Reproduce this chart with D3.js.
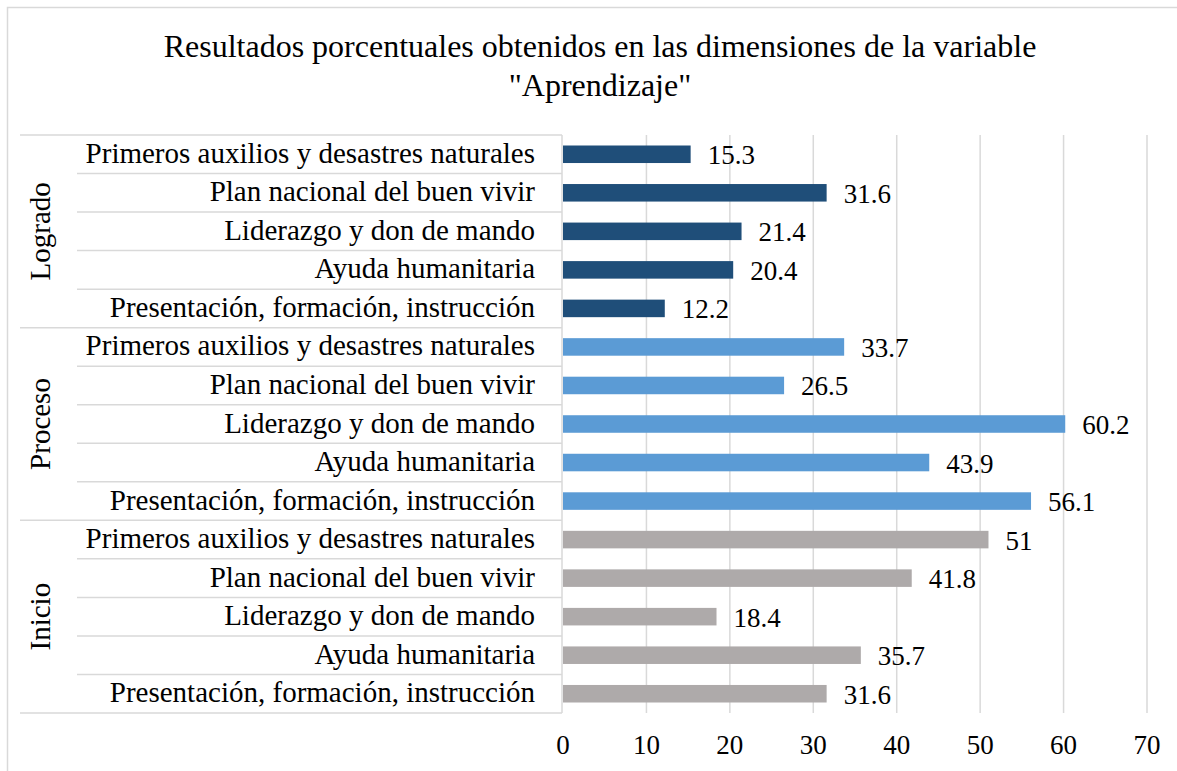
<!DOCTYPE html>
<html>
<head>
<meta charset="utf-8">
<script src="https://cdn.jsdelivr.net/npm/d3@7"></script>
<style>
  body { margin: 0; background: #fff; }
  svg text { font-family: "Liberation Serif", "Times New Roman", serif; fill: #000; }
</style>
</head>
<body>
<div id="chart"></div>
<script>
// Data
const groups = ["Logrado", "Proceso", "Inicio"];
const dimensions = [
    "Primeros auxilios y desastres naturales",
    "Plan nacional del buen vivir",
    "Liderazgo y don de mando",
    "Ayuda humanitaria",
    "Presentación, formación, instrucción"
];
const logrado = [15.3, 31.6, 21.4, 20.4, 12.2];
const proceso = [33.7, 26.5, 60.2, 43.9, 56.1];
const inicio = [51, 41.8, 18.4, 35.7, 31.6];
const xTicks = [0, 10, 20, 30, 40, 50, 60, 70];
const groupColors = { "Logrado": "#1F4E79", "Proceso": "#5B9BD5", "Inicio": "#AEAAAA" };

const seriesByGroup = { "Logrado": logrado, "Proceso": proceso, "Inicio": inicio };

// Flatten rows in display order (top to bottom)
const rows = [];
groups.forEach(g => {
    dimensions.forEach((d, i) => {
        rows.push({ group: g, dim: d, value: seriesByGroup[g][i], key: g + "|" + d });
    });
});

const W = 1177, H = 771;
const plot = { left: 563, right: 1147, top: 135, bottom: 713 };

const svg = d3.select("#chart")
    .append("svg")
    .attr("width", W)
    .attr("height", H);

// Chart border (only left and top visible in frame)
svg.append("rect")
    .attr("x", 7.5).attr("y", 7.5)
    .attr("width", W + 20).attr("height", H + 20)
    .attr("fill", "none")
    .attr("stroke", "#D9D9D9")
    .attr("stroke-width", 1.5);

// Title
svg.append("text")
    .attr("x", 600).attr("y", 57)
    .attr("text-anchor", "middle")
    .style("font-size", "32px")
    .text("Resultados porcentuales obtenidos en las dimensiones de la variable");
svg.append("text")
    .attr("x", 600).attr("y", 96)
    .attr("text-anchor", "middle")
    .style("font-size", "32px")
    .text("\"Aprendizaje\"");

// Scales
const x = d3.scaleLinear()
    .domain([0, 70])
    .range([plot.left, plot.right]);

const y = d3.scaleBand()
    .domain(rows.map(r => r.key))
    .range([plot.top, plot.bottom])
    .paddingInner(0.545)
    .paddingOuter(0.2725);

// Gridlines
svg.append("g")
    .selectAll("line")
    .data(xTicks.filter(t => t > 0))
    .enter()
    .append("line")
    .attr("x1", d => x(d)).attr("x2", d => x(d))
    .attr("y1", plot.top).attr("y2", plot.bottom)
    .attr("stroke", "#D9D9D9")
    .attr("stroke-width", 1.5);

// Category axis lines
const catLines = svg.append("g").attr("stroke", "#D9D9D9").attr("stroke-width", 1.5);
catLines.append("line")
    .attr("x1", plot.left - 1).attr("x2", plot.left - 1)
    .attr("y1", plot.top).attr("y2", plot.bottom);

rows.forEach((r, i) => {
    const yTop = y(r.key) - y.step() * y.paddingInner() / 2;
    const isGroupStart = i % dimensions.length === 0;
    catLines.append("line")
        .attr("x1", isGroupStart ? 20 : 77)
        .attr("x2", plot.left - 1)
        .attr("y1", yTop).attr("y2", yTop);
});
catLines.append("line")
    .attr("x1", 20).attr("x2", plot.left - 1)
    .attr("y1", plot.bottom).attr("y2", plot.bottom);

// Bars
svg.append("g")
    .selectAll("rect")
    .data(rows)
    .enter()
    .append("rect")
    .attr("x", x(0))
    .attr("y", d => y(d.key))
    .attr("width", d => x(d.value) - x(0))
    .attr("height", y.bandwidth())
    .attr("fill", d => groupColors[d.group]);

// Value labels
svg.append("g")
    .selectAll("text")
    .data(rows)
    .enter()
    .append("text")
    .attr("x", d => x(d.value) + 17)
    .attr("y", d => y(d.key) + y.bandwidth() / 2 + 10)
    .style("font-size", "27px")
    .text(d => d.value);

// Inner category labels
svg.append("g")
    .selectAll("text")
    .data(rows)
    .enter()
    .append("text")
    .attr("x", 535)
    .attr("y", d => y(d.key) + y.bandwidth() / 2 + 8.5)
    .attr("text-anchor", "end")
    .style("font-size", "29px")
    .text(d => d.dim);

// Group labels (rotated)
groups.forEach((g, gi) => {
    const first = rows[gi * dimensions.length];
    const last = rows[gi * dimensions.length + dimensions.length - 1];
    const yc = (y(first.key) + y(last.key) + y.bandwidth()) / 2;
    svg.append("text")
        .attr("transform", `translate(50, ${yc}) rotate(-90)`)
        .attr("text-anchor", "middle")
        .style("font-size", "29px")
        .text(g);
});

// X axis tick labels
svg.append("g")
    .selectAll("text")
    .data(xTicks)
    .enter()
    .append("text")
    .attr("x", d => x(d))
    .attr("y", 754)
    .attr("text-anchor", "middle")
    .style("font-size", "27px")
    .text(d => d);
</script>
</body>
</html>
